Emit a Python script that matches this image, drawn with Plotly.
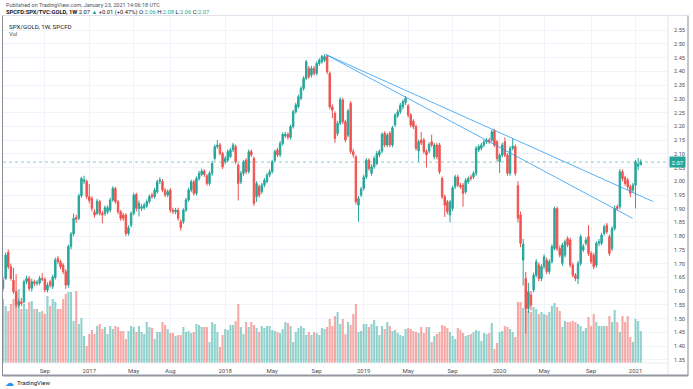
import plotly.graph_objects as go
import pandas as pd

# ---------------- data ----------------
first_bar = "2016-05-16"   # weekly bars, Monday dates

opens = [
 1.610,1.646,1.741,1.689,1.640,1.598,1.549,1.561,1.561,1.634,
 1.646,1.610,1.634,1.628,1.630,1.646,1.643,1.604,1.634,1.616,
 1.650,1.719,1.707,1.695,1.671,1.622,1.762,1.808,1.868,1.865,
 1.947,2.000,2.000,1.944,1.938,1.889,1.883,1.926,1.883,1.883,
 1.889,1.895,1.932,1.974,1.926,1.889,1.877,1.877,1.810,1.840,
 1.883,1.952,1.901,1.901,1.904,1.910,1.926,1.950,1.944,1.962,
 2.000,2.000,1.968,1.950,1.968,1.895,1.889,1.895,1.853,1.853,
 1.895,1.932,1.968,1.998,1.956,2.010,2.025,2.037,2.020,1.992,
 2.029,2.083,2.126,2.132,2.101,2.071,2.077,2.090,2.114,2.126,
 2.059,1.998,2.029,2.077,2.035,2.108,2.083,1.944,1.980,1.962,
 1.986,2.000,2.023,2.035,2.077,2.114,2.096,2.138,2.165,2.171,
 2.160,2.199,2.253,2.272,2.302,2.338,2.375,2.411,2.387,2.411,
 2.393,2.429,2.435,2.441,2.454,2.393,2.271,2.247,2.174,2.211,
 2.296,2.217,2.168,2.284,2.108,2.089,1.913,1.950,1.974,2.016,
 2.077,2.029,2.053,2.065,2.096,2.110,2.175,2.132,2.175,2.132,
 2.205,2.239,2.253,2.271,2.287,2.275,2.241,2.219,2.199,2.110,
 2.150,2.150,2.108,2.110,2.144,2.089,2.132,2.132,2.010,1.944,
 1.925,1.877,1.901,1.980,2.016,1.986,1.986,1.962,1.998,2.016,
 2.016,2.029,2.114,2.120,2.132,2.144,2.150,2.150,2.183,2.144,
 2.071,2.095,2.144,2.095,2.029,2.120,2.126,1.984,1.877,1.713,
 1.646,1.537,1.586,1.604,1.658,1.695,1.646,1.689,1.713,1.671,
 1.707,1.755,1.901,1.755,1.701,1.731,1.792,1.786,1.695,1.658,
 1.646,1.701,1.750,1.774,1.798,1.737,1.731,1.695,1.774,1.774,
 1.810,1.840,1.798,1.755,1.828,1.907,1.907,2.035,2.013,2.004,
 1.980,1.968,1.986,2.055,2.060]

highs = [
 1.652,1.740,1.752,1.700,1.685,1.662,1.572,1.575,1.642,1.656,
 1.655,1.645,1.642,1.640,1.655,1.665,1.650,1.632,1.642,1.660,
 1.722,1.728,1.714,1.702,1.680,1.770,1.815,1.883,1.878,1.955,
 2.016,2.020,2.006,1.990,1.945,1.898,1.936,1.932,1.892,1.912,
 1.912,1.940,1.982,1.980,1.932,1.895,1.885,1.884,1.840,1.890,
 1.958,1.958,1.930,1.916,1.922,1.934,1.952,1.958,1.976,2.006,
 2.015,2.008,1.975,1.970,1.975,1.904,1.903,1.904,1.862,1.902,
 1.940,1.976,2.006,2.005,2.018,2.038,2.046,2.044,2.026,2.036,
 2.074,2.134,2.150,2.140,2.108,2.092,2.116,2.122,2.140,2.134,
 2.066,2.038,2.078,2.084,2.116,2.116,2.090,2.000,1.988,1.994,
 2.012,2.030,2.044,2.078,2.116,2.122,2.146,2.178,2.180,2.178,
 2.206,2.260,2.286,2.316,2.346,2.383,2.442,2.420,2.420,2.420,
 2.436,2.448,2.460,2.462,2.460,2.400,2.280,2.255,2.220,2.306,
 2.304,2.224,2.264,2.292,2.118,2.096,1.946,1.980,2.024,2.084,
 2.084,2.062,2.092,2.110,2.116,2.178,2.182,2.176,2.182,2.202,
 2.248,2.262,2.285,2.298,2.310,2.282,2.248,2.226,2.206,2.152,
 2.180,2.158,2.116,2.142,2.170,2.140,2.140,2.140,2.018,1.952,
 1.932,1.932,1.984,2.024,2.024,1.994,1.994,2.012,2.018,2.024,
 2.036,2.128,2.134,2.140,2.152,2.158,2.158,2.188,2.190,2.150,
 2.102,2.140,2.160,2.102,2.128,2.156,2.134,2.000,1.890,1.790,
 1.670,1.630,1.600,1.668,1.716,1.704,1.698,1.734,1.722,1.716,
 1.770,1.908,1.908,1.766,1.776,1.788,1.800,1.794,1.704,1.666,
 1.710,1.806,1.772,1.796,1.840,1.746,1.740,1.782,1.790,1.812,
 1.842,1.848,1.806,1.836,1.912,1.915,2.045,2.043,2.020,2.012,
 1.988,1.994,2.078,2.085,2.080]

lows = [
 1.600,1.640,1.680,1.638,1.590,1.540,1.540,1.545,1.555,1.625,
 1.600,1.598,1.618,1.620,1.622,1.636,1.596,1.595,1.612,1.608,
 1.642,1.698,1.680,1.662,1.608,1.612,1.752,1.800,1.848,1.858,
 1.940,1.990,1.935,1.920,1.890,1.868,1.876,1.875,1.847,1.874,
 1.880,1.886,1.925,1.918,1.880,1.856,1.856,1.800,1.802,1.832,
 1.876,1.890,1.872,1.892,1.896,1.902,1.918,1.936,1.936,1.955,
 1.990,1.960,1.942,1.942,1.886,1.880,1.880,1.856,1.820,1.845,
 1.888,1.925,1.960,1.948,1.948,2.002,2.018,2.016,1.984,1.984,
 2.020,2.075,2.118,2.094,2.045,2.062,2.070,2.084,2.106,2.062,
 1.930,1.990,2.020,2.026,2.028,2.088,1.910,1.925,1.940,1.954,
 1.978,1.992,2.015,2.028,2.070,2.088,2.088,2.130,2.158,2.152,
 2.152,2.192,2.246,2.265,2.295,2.330,2.368,2.372,2.378,2.385,
 2.386,2.420,2.428,2.434,2.390,2.262,2.230,2.140,2.165,2.204,
 2.208,2.142,2.160,2.100,2.086,1.916,1.853,1.942,1.966,2.008,
 2.038,2.020,2.045,2.058,2.088,2.102,2.124,2.124,2.124,2.124,
 2.198,2.230,2.245,2.262,2.278,2.232,2.196,2.190,2.112,2.071,
 2.132,2.100,2.050,2.102,2.124,2.080,2.080,2.026,1.935,1.870,
 1.880,1.850,1.892,1.972,1.978,1.972,1.907,1.954,1.990,2.002,
 2.008,2.020,2.106,2.112,2.124,2.136,2.136,2.142,2.124,2.074,
 2.030,2.088,2.088,2.020,2.020,2.112,2.020,1.850,1.760,1.620,
 1.445,1.520,1.530,1.596,1.650,1.636,1.636,1.680,1.662,1.662,
 1.700,1.748,1.746,1.722,1.692,1.722,1.760,1.686,1.650,1.636,
 1.626,1.692,1.742,1.766,1.728,1.698,1.680,1.686,1.764,1.766,
 1.802,1.808,1.728,1.746,1.820,1.893,1.898,2.000,1.984,1.970,
 1.942,1.958,1.901,2.040,2.060]

closes = [
 1.640,1.731,1.689,1.646,1.598,1.549,1.561,1.555,1.634,1.646,
 1.610,1.634,1.628,1.632,1.646,1.643,1.604,1.622,1.622,1.652,
 1.713,1.707,1.689,1.671,1.622,1.762,1.808,1.865,1.862,1.947,
 2.010,2.005,1.944,1.930,1.901,1.877,1.928,1.883,1.877,1.904,
 1.904,1.932,1.974,1.926,1.889,1.865,1.865,1.810,1.831,1.883,
 1.950,1.901,1.920,1.907,1.913,1.926,1.944,1.944,1.968,1.998,
 2.005,1.968,1.950,1.962,1.895,1.889,1.895,1.865,1.831,1.895,
 1.932,1.968,1.998,1.956,2.010,2.029,2.037,2.025,1.992,2.029,
 2.065,2.126,2.132,2.101,2.053,2.083,2.108,2.114,2.132,2.071,
 1.992,2.029,2.071,2.035,2.108,2.096,1.920,1.992,1.950,1.986,
 2.004,2.023,2.035,2.071,2.108,2.096,2.138,2.171,2.171,2.160,
 2.199,2.253,2.278,2.308,2.338,2.375,2.435,2.381,2.411,2.393,
 2.429,2.441,2.454,2.454,2.399,2.271,2.259,2.156,2.211,2.298,
 2.217,2.150,2.256,2.108,2.096,1.925,1.937,1.972,2.016,2.077,
 2.047,2.053,2.083,2.101,2.108,2.171,2.132,2.168,2.132,2.195,
 2.241,2.253,2.277,2.290,2.302,2.241,2.205,2.199,2.120,2.144,
 2.140,2.108,2.096,2.134,2.132,2.132,2.089,2.035,1.944,1.913,
 1.889,1.925,1.976,2.016,1.986,1.980,1.956,2.004,2.010,2.010,
 2.029,2.120,2.126,2.132,2.144,2.150,2.144,2.180,2.132,2.083,
 2.095,2.132,2.095,2.029,2.120,2.128,2.029,1.865,1.774,1.771,
 1.537,1.598,1.549,1.658,1.707,1.646,1.689,1.725,1.671,1.707,
 1.762,1.901,1.755,1.731,1.768,1.780,1.768,1.695,1.658,1.646,
 1.701,1.798,1.762,1.786,1.737,1.707,1.689,1.774,1.780,1.804,
 1.834,1.816,1.737,1.828,1.901,1.901,2.035,2.010,1.992,1.980,
 1.956,1.986,2.071,2.062,2.070]

volumes = [
 64,57,52,59,64,71,74,54,59,54, 61,62,54,54,51,52,49,67,57,64,
 61,54,54,64,69,71,71,42,72,39, 45,27,17,29,33,29,37,39,34,36,
 29,37,34,37,36,32,32,24,32,37, 36,31,37,31,29,41,36,35,24,31,
 31,41,
 38,34,30,30,27,28,28,36, 31,32,30,31,39,38,36,36,36,21,
 41,39,31,16,28,34,33,38,38,42, 59,36,29,41,36,41,38,35,31,37,
 35,37,37,33,32,31,30,34,41,40, 37,21,31,35,37,35,28,31,28,31,
 30,28,35,
 34,36,44,37,47,51,39,44,29,41, 38,49,59,31,32,39,39,36,39,43,
 37,28,37,34,41,37,32,33,30,28, 27,34,35,34,32,31,30,36,30,36,
 36,21,27,29,31,38,37,35,31,27, 24,35,33,30,27,28,29,31,33,
 32,22,30,29,30,40,14,20,31,32, 37,36,34,31,26,61,61,55,58,52,
 51,56,54,49,51,49,48,51,57,60, 56,52,36,42,41,41,42,41,39,37,
 32,35,46,37,49,41,37,37,37,37, 47,41,53,41,31,47,41,47,26,21,
 44,42,32]

x_tick_dates = ["2016-09-05", "2017-01-02", "2017-05-01", "2017-08-07", "2018-01-01",
                "2018-05-07", "2018-09-03", "2019-01-07", "2019-05-06", "2019-09-02",
                "2020-01-06", "2020-05-04", "2020-09-07", "2021-01-04"]
x_tick_text = ["Sep", "2017", "May", "Aug", "2018", "May", "Sep", "2019",
               "May", "Sep", "2020", "May", "Sep", "2021"]
y_tick_vals = [1.35, 1.40, 1.45, 1.50, 1.55, 1.60, 1.65, 1.70, 1.75, 1.80, 1.85, 1.90,
               1.95, 2.00, 2.05, 2.10, 2.15, 2.20, 2.25, 2.30, 2.35, 2.40, 2.45, 2.50, 2.55]
y_tick_text = ["%.2f" % v for v in y_tick_vals]

trend_start = ("2018-09-27", 2.462)
trend_ends = [("2021-02-20", 1.926), ("2020-12-27", 1.865)]
last_price = 2.07

# ---------------- figure ----------------
n = len(closes)
assert len(opens) == len(highs) == len(lows) == n == len(volumes)
dates = pd.date_range(first_bar, periods=n, freq="7D")

TEAL = "#26a69a"
RED = "#ef5350"
FONT = "Roboto, Arial, sans-serif"
highs = [max(h, o, c) for h, o, c in zip(highs, opens, closes)]
lows = [min(l, o, c) for l, o, c in zip(lows, opens, closes)]
vol_colors = ["rgba(38,166,154,0.5)" if c >= o else "rgba(239,83,80,0.5)"
              for o, c in zip(opens, closes)]

fig = go.Figure()
fig.add_trace(go.Bar(x=dates, y=volumes, marker_color=vol_colors, marker_line_width=0,
                     width=5.6 * 86400000, yaxis="y", hoverinfo="skip"))
fig.add_trace(go.Candlestick(
    x=dates, open=opens, high=highs, low=lows, close=closes, yaxis="y2",
    increasing=dict(line=dict(color=TEAL, width=1), fillcolor=TEAL),
    decreasing=dict(line=dict(color=RED, width=1), fillcolor=RED),
    whiskerwidth=0))

# plot area in pixels: left 3, right 668, top 15, bottom 363
L, R, T, B = 3, 668, 15, 363
W, H = R - L, B - T
def px(xp):
    return (xp - L) / W
def py(yp):
    return (B - yp) / H

shapes = []
for d, v in trend_ends:
    shapes.append(dict(type="line", xref="x", yref="y2", x0=trend_start[0], y0=trend_start[1],
                       x1=d, y1=v, line=dict(color="rgba(33,150,243,0.75)", width=1)))
shapes.append(dict(type="line", xref="paper", yref="y2", x0=0, x1=1, y0=last_price, y1=last_price,
                   line=dict(color="rgba(38,166,154,0.55)", width=1, dash="dot")))
shapes.append(dict(type="line", xref="paper", yref="paper", x0=px(3), x1=px(688), y0=py(15.5), y1=py(15.5),
                   line=dict(color="#e0e3eb", width=1)))
shapes.append(dict(type="line", xref="paper", yref="paper", x0=1, x1=1, y0=py(375), y1=py(15.5),
                   line=dict(color="#e0e3eb", width=1)))
shapes.append(dict(type="line", xref="paper", yref="paper", x0=px(2.5), x1=px(2.5), y0=py(376), y1=py(15.5),
                   line=dict(color="#8a8d96", width=1)))
shapes.append(dict(type="line", xref="paper", yref="paper", x0=px(688), x1=px(688), y0=py(376), y1=py(15.5),
                   line=dict(color="#8a8d96", width=1)))
shapes.append(dict(type="line", xref="paper", yref="paper", x0=px(2.5), x1=px(688), y0=py(375.5), y1=py(375.5),
                   line=dict(color="#9598a1", width=2)))
shapes.append(dict(type="line", xref="paper", yref="paper", x0=0, x1=1, y0=py(363), y1=py(363),
                   line=dict(color="#eceef3", width=1)))

annotations = [
    dict(text="Published on TradingView.com, January 23, 2021 14:06:18 UTC", xref="paper", yref="paper",
         x=px(4), y=py(5.5), xanchor="left", yanchor="middle", showarrow=False,
         font=dict(family=FONT, size=5.5, color="#50535e")),
    dict(text=("<b>SPCFD:SPX/TVC:GOLD, 1W</b> 2.07 <span style='color:#26a69a'>▲</span> +0.01 (+0.47%) "
               "O:<span style='color:#26a69a'>2.06</span> H:<span style='color:#26a69a'>2.08</span> "
               "L:<span style='color:#26a69a'>2.06</span> C:<span style='color:#26a69a'>2.07</span>"),
         xref="paper", yref="paper", x=px(4), y=py(12.5), xanchor="left", yanchor="middle",
         showarrow=False, font=dict(family=FONT, size=5.8, color="#131722")),
    dict(text="SPX/GOLD, 1W, SPCFD", xref="paper", yref="paper", x=px(7), y=py(26.5),
         xanchor="left", yanchor="middle", showarrow=False,
         font=dict(family=FONT, size=6.2, color="#131722")),
    dict(text="Vol", xref="paper", yref="paper", x=px(7), y=py(34.5),
         xanchor="left", yanchor="middle", showarrow=False,
         font=dict(family=FONT, size=5.8, color="#4a4e5a")),
    dict(text="2.07", xref="paper", yref="y2", x=px(668.5), y=last_price, xanchor="left",
         yanchor="middle", showarrow=False, bgcolor=TEAL, borderpad=1.5,
         font=dict(family=FONT, size=6, color="white")),
    dict(text="☁", xref="paper", yref="paper", x=px(3), y=py(382.5), xanchor="left",
         yanchor="middle", showarrow=False, font=dict(family="DejaVu Sans", size=9, color="#2196f3")),
    dict(text="TradingView", xref="paper", yref="paper", x=px(14.5), y=py(382.5), xanchor="left",
         yanchor="middle", showarrow=False, font=dict(family=FONT, size=6, color="#131722")),
]

fig.update_layout(
    width=693, height=389,
    margin=dict(l=L, r=693 - R, t=T, b=389 - B),
    paper_bgcolor="white", plot_bgcolor="white",
    showlegend=False, boxgap=0.22, hovermode=False,
    font=dict(family=FONT, size=6, color="#4a4e5a"),
    xaxis=dict(type="date", range=["2016-05-15 22:00", "2021-03-31 22:00"],
               tickvals=x_tick_dates, ticktext=x_tick_text,
               showgrid=True, gridcolor="#f0f3fa", gridwidth=1, zeroline=False,
               ticks="outside", ticklen=2, tickcolor="rgba(0,0,0,0)",
               tickfont=dict(family=FONT, size=6, color="#4a4e5a"),
               rangeslider=dict(visible=False), showline=False, fixedrange=True),
    yaxis=dict(range=[0, H], visible=False, showgrid=False, zeroline=False, fixedrange=True),
    yaxis2=dict(overlaying="y", side="right", range=[1.3382, 2.6055],
                tickvals=y_tick_vals, ticktext=y_tick_text,
                showgrid=True, gridcolor="#f0f3fa", gridwidth=1, zeroline=False,
                ticks="outside", ticklen=4, tickcolor="rgba(0,0,0,0)",
                tickfont=dict(family=FONT, size=5.6, color="#4a4e5a"),
                showline=False, fixedrange=True),
    shapes=shapes, annotations=annotations,
)

fig.write_html("out.html", config={"displayModeBar": False, "staticPlot": True},
               post_script="document.body.style.margin='0px';document.body.style.overflow='hidden';")
